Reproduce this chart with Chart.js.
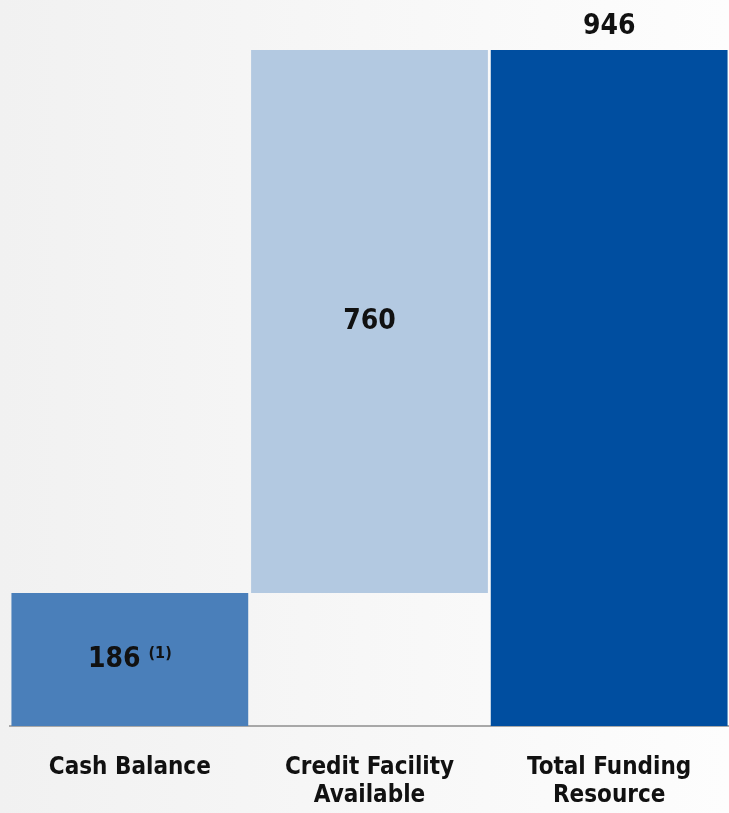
<!DOCTYPE html>
<html>
<head>
<meta charset="utf-8">
<script src="https://cdn.jsdelivr.net/npm/chart.js@4"></script>
<style>
  html, body { margin: 0; padding: 0; }
  body {
    width: 729px; height: 813px; overflow: hidden;
    background: linear-gradient(to right, #f1f1f1 0%, #f7f7f7 50%, #fdfdfd 100%);
  }
  #wrap { position: relative; width: 729px; height: 813px; }
</style>
</head>
<body>
<div id="wrap"><canvas id="fundingChart" width="729" height="813"></canvas></div>
<script>
// ── data ──
const categories = [['Cash Balance'], ['Credit Facility', 'Available'], ['Total Funding', 'Resource']];
const barStarts  = [0, 186, 0];
const barEnds    = [186, 946, 946];
const valueLabels = ['186', '760', '946'];
const footnotes   = ['(1)', '', ''];
const barColors   = ['#4a7fba', '#b3c9e1', '#004ea0'];

const FONT = "'DejaVu Sans Condensed', 'DejaVu Sans', sans-serif";

// draw the value labels: inside the stacked pieces, above the total
const valueLabelPlugin = {
  id: 'valueLabels',
  afterDatasetsDraw(chart) {
    const ctx = chart.ctx;
    const meta = chart.getDatasetMeta(0);
    ctx.save();
    ctx.fillStyle = '#111';
    ctx.textBaseline = 'middle';
    meta.data.forEach((bar, i) => {
      const p = bar.getProps(['x', 'y', 'base'], true);
      const isTotal = i === barEnds.length - 1;
      const y = isTotal ? p.y - 23 : (p.y + p.base) / 2;
      ctx.font = 'bold 28px ' + FONT;
      const w1 = ctx.measureText(valueLabels[i]).width;
      let w2 = 0, gap = 0;
      if (footnotes[i]) {
        ctx.font = 'bold 16px ' + FONT;
        w2 = ctx.measureText(footnotes[i]).width;
        gap = 8;
      }
      const left = p.x - (w1 + gap + w2) / 2;
      ctx.textAlign = 'left';
      ctx.font = 'bold 28px ' + FONT;
      ctx.fillText(valueLabels[i], left, y);
      if (footnotes[i]) {
        ctx.font = 'bold 16px ' + FONT;
        ctx.fillText(footnotes[i], left + w1 + gap, y - 6);
      }
    });
    ctx.restore();
  }
};

new Chart(document.getElementById('fundingChart'), {
  type: 'bar',
  data: {
    labels: categories,
    datasets: [{
      data: barStarts.map((s, i) => [s, barEnds[i]]),
      backgroundColor: barColors,
      borderWidth: 0,
      borderSkipped: false,
      barPercentage: 0.988,
      categoryPercentage: 1
    }]
  },
  options: {
    responsive: false,
    animation: false,
    devicePixelRatio: 1,
    layout: { padding: { left: 10, top: 50, right: 0, bottom: 0 } },
    plugins: { legend: { display: false }, tooltip: { enabled: false } },
    scales: {
      x: {
        afterFit(scale) { scale.height = 87; },
        grid: { display: false, drawTicks: false },
        border: { display: true, color: '#a8a8a8', width: 2 },
        ticks: {
          color: '#111',
          padding: 28,
          maxRotation: 0,
          autoSkip: false,
          font: { family: FONT, size: 24, weight: 'bold', lineHeight: 1.15 }
        }
      },
      y: {
        display: false,
        min: 0,
        max: 946
      }
    }
  },
  plugins: [valueLabelPlugin]
});
</script>
</body>
</html>
